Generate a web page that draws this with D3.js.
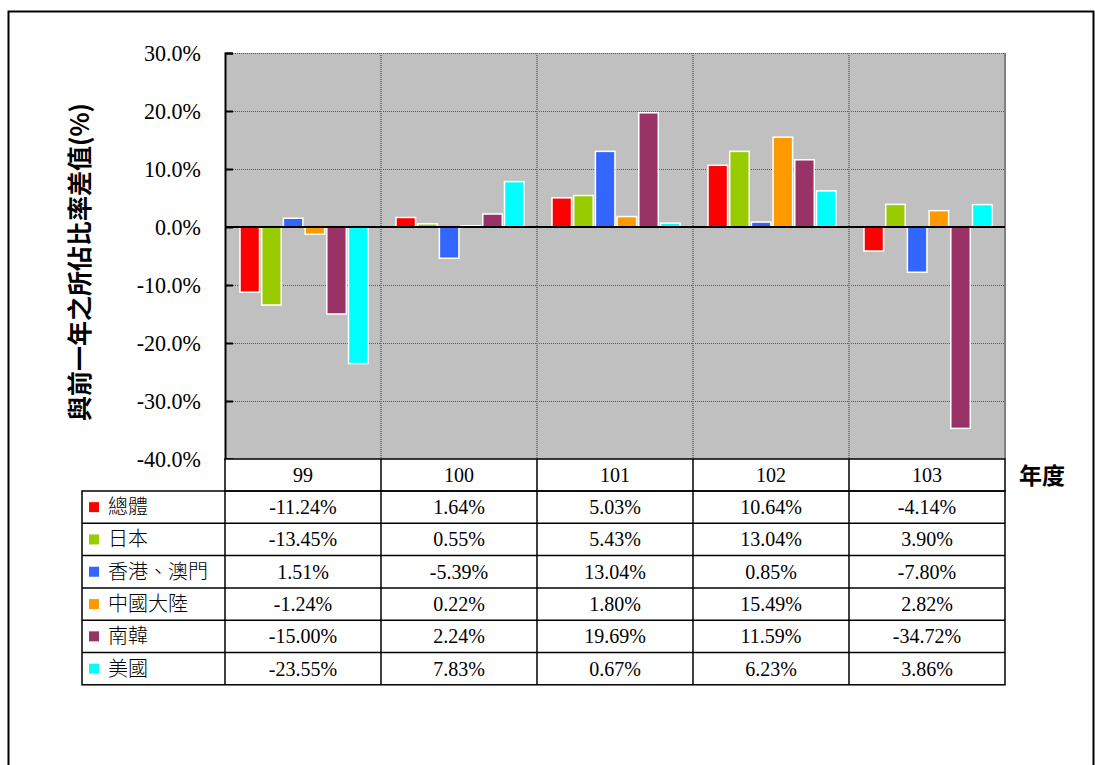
<!DOCTYPE html>
<html><head><meta charset="utf-8">
<script src="https://cdn.jsdelivr.net/npm/d3@7"></script>
<style>body{margin:0;background:#fff}svg{display:block}</style>
</head><body>
<svg id="c" width="1095" height="765"></svg>
<script>
const years = ["99","100","101","102","103"];
const seriesNames = ["總體","日本","香港、澳門","中國大陸","南韓","美國"];
const seriesColors = ["#FF0000","#99CC00","#3366FF","#FF9900","#993366","#00FFFF"];
const vTotal = [-11.24, 1.64, 5.03, 10.64, -4.14];
const vJapan = [-13.45, 0.55, 5.43, 13.04, 3.90];
const vHK = [1.51, -5.39, 13.04, 0.85, -7.80];
const vChina = [-1.24, 0.22, 1.80, 15.49, 2.82];
const vKorea = [-15.00, 2.24, 19.69, 11.59, -34.72];
const vUSA = [-23.55, 7.83, 0.67, 6.23, 3.86];
const yTicks = [30,20,10,0,-10,-20,-30,-40];
const yTitle = "與前一年之所佔比率差值(%)";
const xTitle = "年度";

const series = seriesNames.map((n,i)=>({name:n,color:seriesColors[i],values:[vTotal,vJapan,vHK,vChina,vKorea,vUSA][i]}));

const svg = d3.select("#c");
const L=225, R=1005, T=53, B=459;
const x = d3.scaleBand().domain(years).range([L,R]);
const y = d3.scaleLinear().domain([-40,30]).range([B,T]);
const xs = d3.scaleBand().domain(seriesNames).range([15,143]).paddingInner(0.1);

// outer border
svg.append("rect").attr("x",8.5).attr("y",11.5).attr("width",1085).attr("height",800)
  .attr("fill","none").attr("stroke","#000").attr("stroke-width",2);

// plot bg
svg.append("rect").attr("x",L).attr("y",T).attr("width",R-L).attr("height",B-T).attr("fill","#C0C0C0");

// horizontal grid
svg.append("g").selectAll("line").data(yTicks.filter(d=>d!==0 && d!==-40)).join("line")
  .attr("x1",L).attr("x2",R).attr("y1",d=>Math.round(y(d))+0.5).attr("y2",d=>Math.round(y(d))+0.5)
  .attr("stroke","#555").attr("stroke-width",1).attr("stroke-dasharray","1,1");
// vertical grid
svg.append("g").selectAll("line").data(years.slice(1)).join("line")
  .attr("x1",d=>x(d)).attr("x2",d=>x(d)).attr("y1",T).attr("y2",B)
  .attr("stroke","#777").attr("stroke-width",2).attr("stroke-dasharray","1,1");
// right border
svg.append("line").attr("x1",R).attr("x2",R).attr("y1",T).attr("y2",B).attr("stroke","#808080").attr("stroke-width",2);

// bars
const g = svg.append("g");
series.forEach(s=>{
  g.append("g").selectAll("rect").data(s.values).join("rect")
    .attr("x",(d,i)=>x(years[i])+xs(s.name))
    .attr("width",xs.bandwidth())
    .attr("y",d=>y(Math.max(0,d)))
    .attr("height",d=>Math.abs(y(d)-y(0)))
    .attr("fill",s.color).attr("stroke","#fff").attr("stroke-width",1.5);
});

// zero line
svg.append("line").attr("x1",L).attr("x2",R).attr("y1",y(0)).attr("y2",y(0)).attr("stroke","#000").attr("stroke-width",2);

// y axis
const yAxis = d3.axisLeft(y).tickValues(yTicks).tickSize(-8).tickPadding(24).tickFormat(d=>d.toFixed(1)+"%");
const ya = svg.append("g").attr("transform",`translate(${L},0)`).call(yAxis)
  .attr("font-family","Liberation Serif");
ya.select(".domain").attr("stroke","#000").attr("stroke-width",2);
ya.selectAll(".tick line").attr("stroke","#000").attr("stroke-width",2);
ya.selectAll("text").style("font-family","'Liberation Serif', serif").style("font-size","24px")
  .attr("fill","#000").attr("transform","scale(0.92,1)").attr("x",-24/0.92);

// y title
svg.append("text").attr("transform","translate(89,262) rotate(-90)").attr("text-anchor","middle")
  .attr("font-family","Noto Sans CJK TC").attr("font-weight",700).attr("font-size",25).text(yTitle);

// x title
svg.append("text").attr("x",1019).attr("y",484).attr("font-family","Noto Sans CJK TC").attr("font-weight",700)
  .attr("font-size",23).text(xTitle);

// table
const rowH = 32.3, hdrB = 491;
const tb = svg.append("g");
tb.append("rect").attr("x",L).attr("y",B).attr("width",R-L).attr("height",hdrB-B).attr("fill","#fff").attr("stroke","#000").attr("stroke-width",1.5);
tb.selectAll(".hv").data(years.slice(1)).join("line").attr("x1",d=>x(d)).attr("x2",d=>x(d))
  .attr("y1",B).attr("y2",hdrB+rowH*6).attr("stroke","#000").attr("stroke-width",1.5);
tb.selectAll(".ht").data(years).join("text").attr("x",d=>x(d)+x.bandwidth()/2).attr("y",482)
  .attr("text-anchor","middle").style("font-family","'Liberation Serif', serif").attr("font-size",20).text(d=>d);
tb.append("rect").attr("x",82).attr("y",hdrB).attr("width",R-82).attr("height",rowH*6).attr("fill","none").attr("stroke","#000").attr("stroke-width",1.5);
tb.append("line").attr("x1",L).attr("x2",L).attr("y1",hdrB).attr("y2",hdrB+rowH*6).attr("stroke","#000").attr("stroke-width",1.5);
series.forEach((s,r)=>{
  const y0 = hdrB + r*rowH;
  if(r>0) tb.append("line").attr("x1",82).attr("x2",R).attr("y1",y0).attr("y2",y0).attr("stroke","#000").attr("stroke-width",1.5);
  tb.append("rect").attr("x",89).attr("y",y0+rowH/2-5).attr("width",10).attr("height",10).attr("fill",s.color);
  tb.append("text").attr("x",108).attr("y",y0+rowH/2+7).attr("font-family","Noto Sans CJK TC").attr("font-weight",300).attr("font-size",20).text(s.name);
  tb.append("g").selectAll("text").data(s.values).join("text")
    .attr("x",(d,i)=>x(years[i])+x.bandwidth()/2).attr("y",y0+rowH/2+7)
    .attr("text-anchor","middle").style("font-family","'Liberation Serif', serif").attr("font-size",20)
    .text(d=>d.toFixed(2)+"%");
});
</script>
</body></html>
